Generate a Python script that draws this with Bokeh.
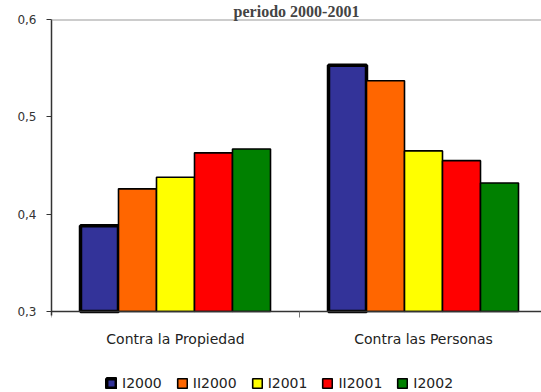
from bokeh.plotting import figure
from bokeh.models import (Range1d, FixedTicker, CustomJSTickFormatter, Span,
                          Legend, LegendItem)
from bokeh.embed import file_html
from bokeh.resources import INLINE

categories = ["Contra la Propiedad", "Contra las Personas"]
series = ["I2000", "II2000", "I2001", "II2001", "I2002"]
values = {
    "I2000":  [0.388, 0.553],
    "II2000": [0.426, 0.537],
    "I2001":  [0.438, 0.465],
    "II2001": [0.463, 0.455],
    "I2002":  [0.467, 0.432],
}
colors = ["#333399", "#FF6600", "#FFFF00", "#FF0000", "#008000"]
title_text = "periodo 2000-2001"

W = 541
left = 51
frame_w = W - left
px_per_unit = 292 / 0.3          # 0.3 .. 0.6 spans 292 px
below_px = 80                    # room under the 0.3 baseline
frame_h = 292 + below_px
cat_px = 248.0

p = figure(frame_width=frame_w, frame_height=frame_h, output_backend="svg", toolbar_location=None,
           x_range=Range1d(0, frame_w / cat_px),
           y_range=Range1d(0.3 - below_px / px_per_unit, 0.6),
           min_border_left=left, min_border_right=0, min_border_top=0,
           min_border_bottom=0, outline_line_color=None)
p.xgrid.visible = False
p.ygrid.visible = False

p.title.text = title_text
p.title.align = "center"
p.title.text_font = "Liberation Serif"
p.title.text_font_style = "bold"
p.title.text_font_size = "16px"
p.title.standoff = 0

bw = 38.0 / cat_px
centers = [0.5 + i for i in range(len(categories))]
renderers = []
for k, (s, c) in enumerate(zip(series, colors)):
    xs = [cx + (k - 2) * bw for cx in centers]
    lw = 3.5 if k == 0 else 1.6
    r = p.vbar(x=xs, top=values[s], bottom=0.3, width=bw, fill_color=c,
               line_color="black", line_width=lw)
    renderers.append(r)

p.add_layout(Span(location=0.6, dimension="width", line_color="#999999", line_width=2))

# y axis
p.yaxis.ticker = FixedTicker(ticks=[0.3, 0.4, 0.5, 0.6], minor_ticks=[])
p.yaxis.bounds = (0.3 - 4 / px_per_unit, 0.6)
p.yaxis.formatter = CustomJSTickFormatter(code="return tick.toFixed(1).replace('.', ',');")
p.yaxis.axis_line_color = "#333333"
p.yaxis.axis_line_width = 1.5
p.yaxis.major_tick_line_color = "#333333"
p.yaxis.major_tick_out = 5
p.yaxis.major_tick_in = 0
p.yaxis.major_label_standoff = 10
p.yaxis.major_label_text_font = "DejaVu Sans"
p.yaxis.major_label_text_font_size = "12px"
p.yaxis.major_label_text_color = "#333333"

# x axis, pinned at the 0.3 baseline
p.xaxis.fixed_location = 0.3
p.xaxis.ticker = FixedTicker(ticks=centers, minor_ticks=list(range(len(categories) + 1)))
p.xaxis.major_label_overrides = {c: n for c, n in zip(centers, categories)}
p.xaxis.axis_line_color = "#333333"
p.xaxis.axis_line_width = 1.5
p.xaxis.major_tick_out = 0
p.xaxis.major_tick_in = 0
p.xaxis.minor_tick_out = 6
p.xaxis.minor_tick_in = 0
p.xaxis.minor_tick_line_color = "#777777"
p.xaxis.major_label_standoff = 13
p.xaxis.major_label_text_font = "DejaVu Sans"
p.xaxis.major_label_text_font_size = "14px"
p.xaxis.major_label_text_color = "#222222"

legend = Legend(items=[LegendItem(label=s, renderers=[r]) for s, r in zip(series, renderers)],
                orientation="horizontal", location=(54, 0), padding=0, margin=0,
                border_line_color=None, background_fill_alpha=0,
                glyph_width=12, glyph_height=12, label_standoff=5, spacing=14,
                label_text_font="DejaVu Sans", label_text_font_size="14px",
                label_text_color="#222222")
p.add_layout(legend, "center")

open("out.html", "w").write(file_html(p, INLINE))
